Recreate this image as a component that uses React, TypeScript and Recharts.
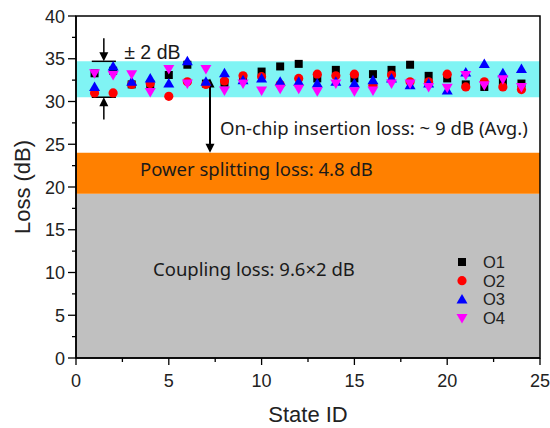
import React from "react";
import {
  ReferenceArea,
  ReferenceDot,
  ReferenceLine,
  Scatter,
  ScatterChart,
  XAxis,
  YAxis,
} from "recharts";

const states = [1, 2, 3, 4, 5, 6, 7, 8, 9, 10, 11, 12, 13, 14, 15, 16, 17, 18, 19, 20, 21, 22, 23, 24];
const o1 = [33.3, 33.6, 32.0, 32.0, 33.1, 34.3, 32.1, 32.2, 32.7, 33.5, 34.1, 34.4, 32.7, 33.7, 32.7, 33.2, 33.7, 34.3, 33.0, 32.7, 32.0, 31.7, 32.3, 32.1];
const o2 = [31.0, 31.0, 32.0, 32.1, 30.6, 32.3, 32.0, 32.4, 33.0, 32.9, 32.0, 32.7, 33.2, 33.0, 33.2, 31.9, 33.1, 32.3, 32.3, 33.2, 31.7, 32.3, 31.7, 31.4];
const o3 = [31.7, 34.1, 32.3, 32.7, 32.1, 34.7, 32.3, 33.3, 32.5, 32.7, 32.3, 32.3, 32.1, 32.3, 32.1, 32.5, 32.7, 31.9, 32.1, 31.3, 33.4, 34.4, 33.3, 33.8];
const o4 = [33.3, 33.1, 33.2, 31.1, 33.8, 32.1, 33.8, 31.3, 32.1, 31.3, 31.5, 31.5, 31.2, 32.1, 31.2, 31.3, 32.1, 32.1, 31.7, 31.6, 33.1, 31.9, 32.6, 31.7];

const xTicks = [0, 2.5, 5, 7.5, 10, 12.5, 15, 17.5, 20, 22.5, 25];
const yTicks = [0, 2.5, 5, 7.5, 10, 12.5, 15, 17.5, 20, 22.5, 25, 27.5, 30, 32.5, 35, 37.5, 40];

// loss budget bands
const couplingTop = 19.2;
const splittingTop = 24.0;
const spreadLow = 30.5;
const spreadHigh = 34.7;

const seriesNames = ["O1", "O2", "O3", "O4"];
const seriesColors = ["#000000", "#ff0000", "#0000ff", "#ff00ff"];

const toPoints = (vals: number[]) => states.map((s, i) => ({ x: s, y: vals[i] }));

const AXIS_FONT = "'Liberation Sans', Arial, sans-serif";
const NOTE_FONT = "'Noto Sans', sans-serif";

function Marker({ kind, cx, cy, fill }: { kind: number; cx: number; cy: number; fill: string }) {
  if (kind === 0) return <rect x={cx - 4} y={cy - 4} width={8} height={8} fill={fill} />;
  if (kind === 1) return <circle cx={cx} cy={cy} r={4.6} fill={fill} />;
  if (kind === 2)
    return <polygon points={`${cx},${cy - 5.5} ${cx - 5.5},${cy + 4} ${cx + 5.5},${cy + 4}`} fill={fill} />;
  return <polygon points={`${cx},${cy + 5.5} ${cx - 5.5},${cy - 4} ${cx + 5.5},${cy - 4}`} fill={fill} />;
}

function arrowShape(headStart: boolean, headEnd: boolean, width: number) {
  return (p: any) => {
    const { x1, y1, x2, y2 } = p;
    const head = (tx: number, ty: number, dir: number) => (
      <polygon points={`${tx},${ty} ${tx - 4.5},${ty - dir * 9} ${tx + 4.5},${ty - dir * 9}`} fill="#000" />
    );
    const dir = y2 > y1 ? 1 : -1;
    return (
      <g>
        <line x1={x1} y1={y1 + (headStart ? dir * 6 : 0)} x2={x2} y2={y2 - (headEnd ? dir * 6 : 0)} stroke="#000" strokeWidth={width} />
        {headStart && head(x1, y1, -dir)}
        {headEnd && head(x2, y2, dir)}
      </g>
    );
  };
}

function noteShape(text: string, size: number, font: string) {
  return (p: any) => (
    <text x={p.cx} y={p.cy} dy={size * 0.35} fontSize={size} fontFamily={font} fill="#1a1a1a">
      {text}
    </text>
  );
}

function YTick({ x, y, payload }: any) {
  const major = payload.value % 5 === 0;
  return (
    <g>
      <line x1={x} y1={y} x2={x - (major ? 8 : 4)} y2={y} stroke="#000" strokeWidth={1.3} />
      {major && (
        <text x={x - 11} y={y} dy={6.5} textAnchor="end" fontSize={18} fontFamily={AXIS_FONT} fill="#222">
          {payload.value}
        </text>
      )}
    </g>
  );
}

function XTick({ x, y, payload }: any) {
  const major = payload.value % 5 === 0;
  return (
    <g>
      <line x1={x} y1={y} x2={x} y2={y + (major ? 7 : 4)} stroke="#000" strokeWidth={1.3} />
      {major && (
        <text x={x} y={y + 29} textAnchor="middle" fontSize={18} fontFamily={AXIS_FONT} fill="#222">
          {payload.value}
        </text>
      )}
    </g>
  );
}

function LegendBox() {
  return (
    <svg width={80} height={80} style={{ position: "absolute", left: 452, top: 252 }}>
      {seriesNames.map((n, i) => (
        <g key={n} transform={`translate(0, ${10 + i * 18.7})`}>
          <Marker kind={i} cx={10} cy={0} fill={seriesColors[i]} />
          <text x={31} y={6} fontSize={16.5} fontFamily={AXIS_FONT} fill="#222">
            {n}
          </text>
        </g>
      ))}
    </svg>
  );
}

export default function App() {
  return (
    <div style={{ position: "absolute", left: 0, top: 0, width: 550, height: 428, background: "#fff" }}>
      <ScatterChart width={550} height={428} margin={{ top: 16, right: 10, bottom: 0, left: 0 }}>
        <XAxis
          type="number"
          dataKey="x"
          domain={[0, 25]}
          ticks={xTicks}
          interval={0}
          tickSize={0}
          tickMargin={0}
          tickLine={false}
          tick={<XTick />}
          height={70}
          axisLine={{ stroke: "#000", strokeWidth: 1.5 }}
          label={{ value: "State ID", position: "insideBottom", offset: 6, fontSize: 22, fontFamily: AXIS_FONT, fill: "#222" }}
        />
        <YAxis
          type="number"
          dataKey="y"
          domain={[0, 40]}
          ticks={yTicks}
          interval={0}
          tickSize={0}
          tickMargin={0}
          tickLine={false}
          tick={<YTick />}
          width={76}
          axisLine={{ stroke: "#000", strokeWidth: 1.5 }}
          label={{
            content: (p: any) => {
              const vb = p.viewBox;
              const cx = vb.x + 22;
              const cy = vb.y + vb.height / 2;
              return (
                <text x={cx} y={cy} transform={`rotate(-90 ${cx} ${cy})`} textAnchor="middle" dy={8} fontSize={22} fontFamily={AXIS_FONT} fill="#222">
                  Loss (dB)
                </text>
              );
            },
          }}
        />
        <ReferenceArea x1={0} x2={25} y1={0} y2={couplingTop} fill="#c0c0c0" fillOpacity={1} stroke="none" />
        <ReferenceArea x1={0} x2={25} y1={couplingTop} y2={splittingTop} fill="#ff8000" fillOpacity={1} stroke="none" />
        <ReferenceArea x1={0} x2={25} y1={spreadLow} y2={spreadHigh} fill="#80f4f4" fillOpacity={1} stroke="none" />
        <ReferenceArea x1={0} x2={25} y1={0} y2={40} fill="none" stroke="#000" strokeWidth={1.5} />

        <ReferenceLine segment={[{ x: 0.85, y: spreadHigh }, { x: 2.15, y: spreadHigh }]} stroke="#000" strokeWidth={1.5} />
        <ReferenceLine segment={[{ x: 0.85, y: spreadLow }, { x: 2.15, y: spreadLow }]} stroke="#000" strokeWidth={1.5} />
        <ReferenceLine segment={[{ x: 1.5, y: 37.4 }, { x: 1.5, y: spreadHigh }]} shape={arrowShape(false, true, 1.5)} />
        <ReferenceLine segment={[{ x: 1.5, y: 27.9 }, { x: 1.5, y: spreadLow }]} shape={arrowShape(false, true, 1.5)} />
        <ReferenceLine segment={[{ x: 7.22, y: 32.7 }, { x: 7.22, y: splittingTop }]} shape={arrowShape(true, true, 2)} />

        <ReferenceDot x={2.6} y={35.8} r={0} shape={noteShape("± 2 dB", 19.5, AXIS_FONT)} />
        <ReferenceDot x={7.76} y={26.9} r={0} shape={noteShape("On-chip insertion loss: ~ 9 dB (Avg.)", 18.6, NOTE_FONT)} />
        <ReferenceDot x={3.45} y={22.0} r={0} shape={noteShape("Power splitting loss: 4.8 dB", 18.5, NOTE_FONT)} />
        <ReferenceDot x={4.15} y={10.4} r={0} shape={noteShape("Coupling loss: 9.6×2 dB", 18.5, NOTE_FONT)} />

        {[o1, o2, o3, o4].map((vals, i) => (
          <Scatter
            key={seriesNames[i]}
            name={seriesNames[i]}
            data={toPoints(vals)}
            fill={seriesColors[i]}
            isAnimationActive={false}
            shape={(p: any) => <Marker kind={i} cx={p.cx} cy={p.cy} fill={seriesColors[i]} />}
          />
        ))}
      </ScatterChart>
      <LegendBox />
    </div>
  );
}
